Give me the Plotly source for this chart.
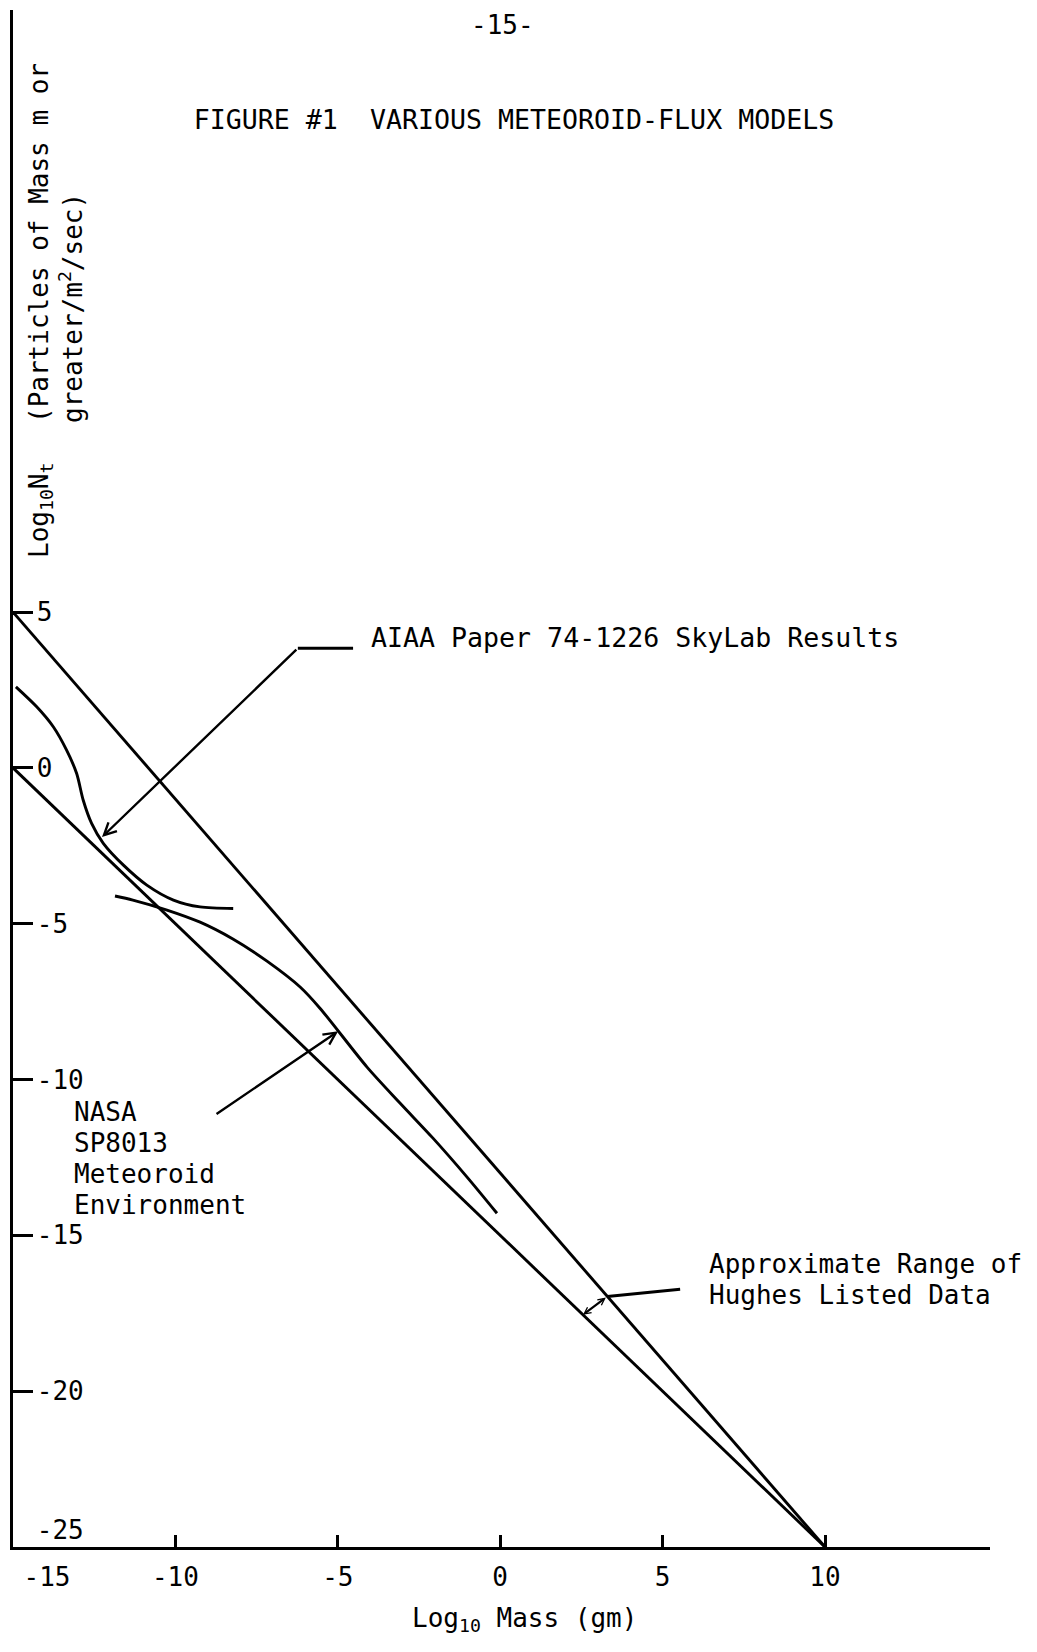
import plotly.graph_objects as go

FONT = "DejaVu Sans Mono"
INK = "black"

# ---- axis ticks ----
x_tickvals = [-10, -5, 0, 5, 10]
x_ticktext = ["-10", "-5", "0", "5", "10"]
x_first_tickval = [-15]
x_first_ticktext = ["-15"]
y_tickvals = [5, 0, -5, -10, -15, -20, -25]
y_ticktext = ["5", "0", "-5", "-10", "-15", "-20", "-25<br>\u00a0"]

# ---- Approximate range of Hughes listed data (two straight lines) ----
hughes_upper_x = [-15, 10]
hughes_upper_y = [5, -25]
hughes_lower_x = [-15, 10]
hughes_lower_y = [0, -25]

# ---- AIAA Paper 74-1226 SkyLab results ----
skylab_x = [-14.91, -14.27, -13.76, -13.35, -13.04, -12.84, -12.58, -12.22,
            -11.60, -10.88, -10.06, -9.24, -8.22]
skylab_y = [2.60, 1.96, 1.32, 0.57, -0.18, -1.03, -1.78, -2.42,
            -3.12, -3.76, -4.24, -4.46, -4.51]

# ---- NASA SP8013 meteoroid environment ----
nasa_x = [-11.86, -11.31, -10.26, -9.24, -8.23, -7.18, -6.16, -5.55,
          -4.10, -3.08, -2.07, -1.02, -0.10]
nasa_y = [-4.11, -4.24, -4.56, -4.95, -5.49, -6.20, -7.03, -7.71,
          -9.60, -10.76, -11.88, -13.13, -14.29]

LW = 2.9
X_RANGE = [-15, 15.08]
Y_RANGE = [-25, 24.32]

# page geometry (the html body adds an 8px margin around the figure)
FIG_W, FIG_H = 1029, 1644
BODY = 8
PLOT_L, PLOT_R, PLOT_T, PLOT_B = 13, 990, 10, 1547  # absolute page pixels


def px(xp):
    return (xp - PLOT_L) / (PLOT_R - PLOT_L)


def py(yp):
    return (PLOT_B - yp) / (PLOT_B - PLOT_T)


fig = go.Figure()
for xs, ys, shape, name, xax in [
    (hughes_upper_x, hughes_upper_y, "linear", "Hughes upper", "x2"),
    (hughes_lower_x, hughes_lower_y, "linear", "Hughes lower", "x"),
    (skylab_x, skylab_y, "spline", "SkyLab", "x"),
    (nasa_x, nasa_y, "spline", "NASA SP8013", "x"),
]:
    fig.add_trace(go.Scatter(
        x=xs, y=ys, mode="lines", name=name, xaxis=xax, yaxis="y",
        line=dict(color=INK, width=LW, shape=shape, smoothing=0.8),
        showlegend=False, hoverinfo="skip", cliponaxis=False,
    ))

ann = []
txt = dict(family=FONT, size=26, color=INK)
txt_l = dict(family=FONT, size=26.6, color=INK)

# page number
ann.append(dict(text="-15-", xref="paper", yref="paper", x=px(503), y=py(8),
                xanchor="center", yanchor="top", showarrow=False, font=txt))

# y-axis title (rotated, inside plot)
ann.append(dict(text="Log<sub>10</sub>N<sub>t</sub>", xref="paper", yref="paper",
                x=px(22), y=py(560), textangle=-90,
                xanchor="left", yanchor="bottom", showarrow=False, font=txt))
ann.append(dict(text="(Particles of Mass m or<br>greater/m<sup>2</sup>/sec)",
                xref="paper", yref="paper", align="left",
                x=px(22), y=py(425), textangle=-90,
                xanchor="left", yanchor="bottom", showarrow=False, font=txt))

# x-axis title
ann.append(dict(text="Log<sub>10</sub> Mass (gm)", xref="paper", yref="paper",
                x=px(524), y=py(1619),
                xanchor="center", yanchor="middle", showarrow=False, font=txt))

# SkyLab label + leader
ann.append(dict(text="AIAA Paper 74-1226 SkyLab Results", x=-4.04, y=4.17,
                xanchor="left", yanchor="middle", showarrow=False, font=txt_l))
ann.append(dict(text="", x=-12.26, y=-2.22, ax=-6.23, ay=3.84, axref="x", ayref="y",
                showarrow=True, arrowhead=5, arrowwidth=2.4, arrowsize=1,
                arrowcolor=INK, font=dict(size=1)))

# NASA label + arrow
for i, line in enumerate(["NASA", "SP8013", "Meteoroid", "Environment"]):
    ann.append(dict(text=line, x=-13.18, y=-11.05 - 0.99 * i, xanchor="left",
                    yanchor="middle", showarrow=False, font=txt))
ann.append(dict(text="", x=-4.99, y=-8.45, ax=-8.78, ay=-11.14, axref="x", ayref="y",
                showarrow=True, arrowhead=5, arrowwidth=2.4, arrowsize=1,
                arrowcolor=INK, font=dict(size=1)))

# Hughes label + double arrow
for i, line in enumerate(["Approximate Range of", "Hughes Listed Data"]):
    ann.append(dict(text=line, x=6.36, y=-15.92 - 1.0 * i, xanchor="left",
                    yanchor="middle", showarrow=False, font=txt))
ann.append(dict(text="", x=2.55, y=-17.55, ax=3.3, ay=-16.96, axref="x", ayref="y",
                showarrow=True, arrowhead=5, startarrowhead=5, arrowside="end+start",
                arrowwidth=2.2, arrowsize=0.6, startarrowsize=0.6,
                arrowcolor=INK, font=dict(size=1)))

shapes = [
    dict(type="line", x0=-6.23, y0=3.84, x1=-4.53, y1=3.84,
         line=dict(color=INK, width=LW)),
    dict(type="line", x0=5.54, y0=-16.73, x1=3.3, y1=-16.96,
         line=dict(color=INK, width=LW)),
]

fig.update_layout(
    template="none",
    width=FIG_W, height=FIG_H,
    margin=dict(l=PLOT_L - BODY, r=FIG_W + BODY - PLOT_R,
                t=PLOT_T - BODY, b=FIG_H + BODY - PLOT_B, pad=0),
    paper_bgcolor="white", plot_bgcolor="white",
    title=dict(text="FIGURE #1  VARIOUS METEOROID-FLUX MODELS",
               x=px(514), xref="paper", xanchor="center",
               y=1 - (120 - BODY) / FIG_H, yref="container", yanchor="middle",
               font=txt_l),
    annotations=ann,
    shapes=shapes,
    showlegend=False,
    xaxis=dict(range=X_RANGE, showgrid=False, zeroline=False,
               showline=True, linecolor=INK, linewidth=3,
               ticks="inside", ticklen=12, tickwidth=2.5, tickcolor=INK,
               tickmode="array", tickvals=x_tickvals, ticktext=x_ticktext,
               tickfont=txt, ticklabelstandoff=5, ticklabeloverflow="allow",
               automargin=False),
    # the first x label sits just right of the y axis, as in the original
    xaxis2=dict(range=X_RANGE, overlaying="x", anchor="y", side="bottom",
                showgrid=False, zeroline=False, showline=False, ticks="",
                tickmode="array", tickvals=x_first_tickval,
                ticktext=x_first_ticktext, ticklabelshift=34,
                tickfont=txt, ticklabelstandoff=12, ticklabeloverflow="allow",
                automargin=False),
    yaxis=dict(range=Y_RANGE, showgrid=False, zeroline=False,
               showline=True, linecolor=INK, linewidth=3,
               ticks="inside", ticklen=20, tickwidth=2.5, tickcolor=INK,
               tickmode="array", tickvals=y_tickvals, ticktext=y_ticktext,
               ticklabelposition="inside", ticklabeloverflow="allow",
               ticklabelstandoff=6,
               tickfont=txt, automargin=False),
)

fig.write_html("out.html")
